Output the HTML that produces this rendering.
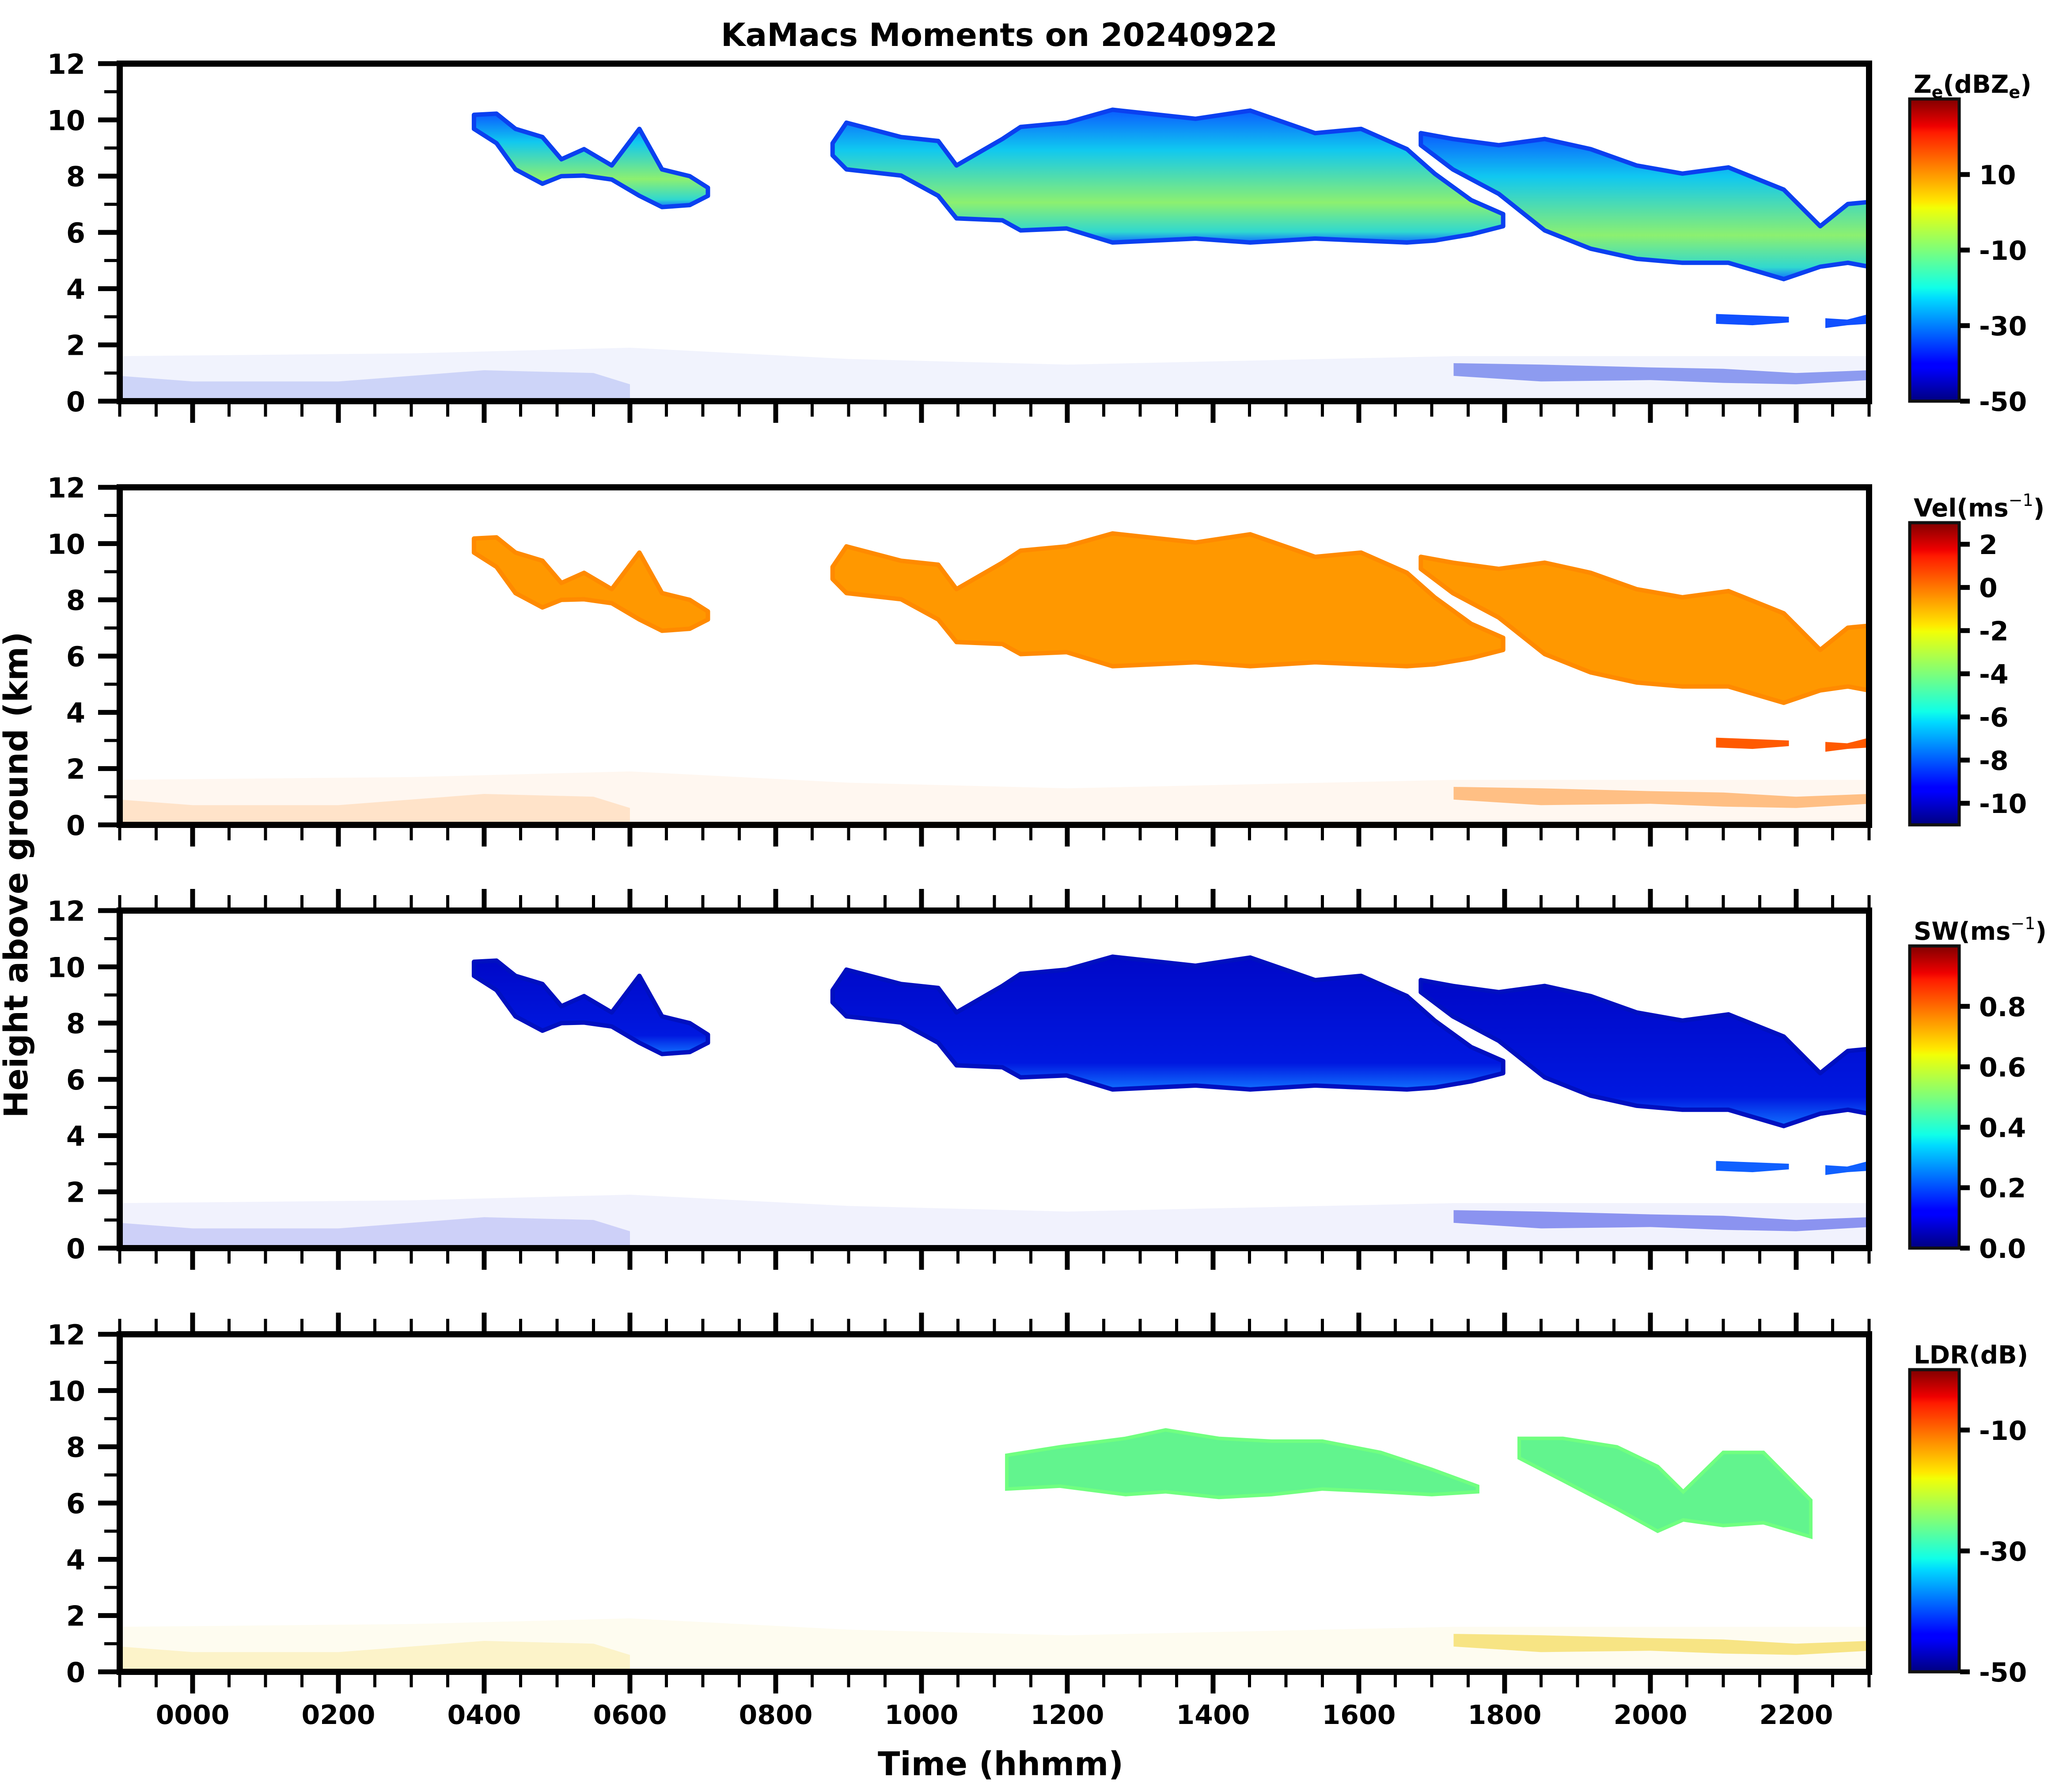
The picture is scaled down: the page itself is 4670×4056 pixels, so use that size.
<!DOCTYPE html>
<html><head><meta charset="utf-8"><title>KaMacs Moments</title>
<style>
html,body{margin:0;padding:0;background:#fff;}
svg{display:block;font-family:"DejaVu Sans","Liberation Sans",sans-serif;font-weight:bold;}
</style></head>
<body>
<svg id="fig" xmlns="http://www.w3.org/2000/svg" width="4670" height="4056" viewBox="0 0 4670 4056">
<defs>
<linearGradient id="jet" x1="0" y1="1" x2="0" y2="0">
<stop offset="0" stop-color="#000080"/><stop offset="0.11" stop-color="#0000ff"/><stop offset="0.125" stop-color="#0000ff"/>
<stop offset="0.34" stop-color="#00dbff"/><stop offset="0.375" stop-color="#10ffe8"/><stop offset="0.5" stop-color="#7dff7a"/>
<stop offset="0.64" stop-color="#f2ff06"/><stop offset="0.66" stop-color="#ffe800"/><stop offset="0.89" stop-color="#ff1a00"/>
<stop offset="0.91" stop-color="#f00000"/><stop offset="1" stop-color="#800000"/></linearGradient>
<linearGradient id="zeFill" x1="0" y1="0" x2="0" y2="1">
<stop offset="0" stop-color="#0a5cff"/><stop offset="0.3" stop-color="#10c8f0"/><stop offset="0.7" stop-color="#8cf070"/><stop offset="0.92" stop-color="#30d8d0"/><stop offset="1" stop-color="#1070ff"/></linearGradient>
<linearGradient id="swFill" x1="0" y1="0" x2="0" y2="1">
<stop offset="0" stop-color="#0008c8"/><stop offset="0.8" stop-color="#0018e0"/><stop offset="1" stop-color="#1070ff"/></linearGradient>
</defs>
<g id="root"></g>
</svg>
<script>
// ---- data (time in hours, heights in km) ----
const cloudA_t   = [3.86,4.17,4.43,4.80,5.06,5.37,5.75,6.13,6.44,6.82,7.07];
const cloudA_top = [10.18,10.22,9.68,9.39,8.6,8.96,8.38,9.68,8.24,8.0,7.59];
const cloudA_bot = [9.68,9.17,8.24,7.73,8.0,8.02,7.88,7.3,6.9,6.97,7.3];
const cloudB_t   = [8.78,8.97,9.72,10.23,10.48,11.11,11.36,11.99,12.62,13.76,14.51,15.4,16.03,16.66,17.04,17.54,17.98];
const cloudB_top = [9.17,9.9,9.39,9.25,8.38,9.32,9.75,9.9,10.36,10.04,10.33,9.53,9.68,8.96,8.09,7.15,6.65];
const cloudB_bot = [8.74,8.24,8.02,7.3,6.5,6.43,6.07,6.14,5.64,5.78,5.64,5.78,5.71,5.64,5.71,5.93,6.22];
const cloudC_t   = [16.85,17.29,17.92,18.55,19.18,19.81,20.44,21.07,21.83,22.33,22.71,23.0];
const cloudC_top = [9.53,9.32,9.1,9.32,8.96,8.38,8.09,8.31,7.52,6.22,7.01,7.08];
const cloudC_bot = [9.1,8.24,7.37,6.07,5.42,5.06,4.92,4.92,4.34,4.78,4.92,4.78];
const lowD_t = [20.9,21.4,21.9]; const lowD_top = [3.1,3.05,3.0]; const lowD_bot = [2.75,2.7,2.8];
const lowE_t = [22.4,22.7,23.0]; const lowE_top = [2.95,2.9,3.1]; const lowE_bot = [2.6,2.7,2.75];
const ldr1_t   = [11.17,11.9,12.8,13.35,14.08,14.8,15.5,16.3,17.0,17.63];
const ldr1_top = [7.7,8.0,8.3,8.6,8.3,8.2,8.2,7.8,7.2,6.6];
const ldr1_bot = [6.5,6.6,6.3,6.4,6.2,6.3,6.5,6.4,6.3,6.4];
const ldr2_t   = [18.2,18.8,19.54,20.1,20.45,21.0,21.55,22.2];
const ldr2_top = [8.3,8.3,8.0,7.3,6.4,7.8,7.8,6.1];
const ldr2_bot = [7.6,6.8,5.8,5.0,5.4,5.2,5.3,4.8];
const blSparse_t = [-1,3,6,9,12,17.3,23];
const blSparse_top = [1.6,1.7,1.9,1.5,1.3,1.6,1.6];
const blLow_t = [-1,0,2,4,5.5,6];
const blLow_top = [0.9,0.7,0.7,1.1,1.0,0.6];
const blLate_t = [17.3,18.5,20,21,22,23];
const blLate_top = [1.35,1.3,1.2,1.15,1.0,1.1];
const blLate_bot = [0.9,0.7,0.75,0.65,0.6,0.75];
const yTicks = [0,2,4,6,8,10,12];
const xTickHours = [0,2,4,6,8,10,12,14,16,18,20,22];
const xTickLabels = ["0000","0200","0400","0600","0800","1000","1200","1400","1600","1800","2000","2200"];
const cbTitles = ["Ze","Vel","SW","LDR"];
const cbMin = [-50,-11,0,-50];
const cbMax = [30,3,1.0,0];
const cbTickVals = [[10,-10,-30,-50],[2,0,-2,-4,-6,-8,-10],[0.0,0.2,0.4,0.6,0.8],[-10,-30,-50]];
const cbTickLabels = [["10","-10","-30","-50"],["2","0","-2","-4","-6","-8","-10"],["0.0","0.2","0.4","0.6","0.8"],["-10","-30","-50"]];

// ---- geometry ----
const NS="http://www.w3.org/2000/svg";
const root=document.getElementById('root');
const panelTops=[144,1103,2061,3020], PH=764, AXL=271, AXR=4231;
function xs(t){return 436+165*t;}
function ys(p,km){return panelTops[p]+PH*(1-km/12);}
function mk(tag,attrs,parent){const e=document.createElementNS(NS,tag);for(const k in attrs)e.setAttribute(k,attrs[k]);(parent||root).appendChild(e);return e;}
function band(p,t,top,bot){
  let pts=[];
  for(let i=0;i<t.length;i++)pts.push(xs(t[i]).toFixed(1)+','+ys(p,top[i]).toFixed(1));
  for(let i=t.length-1;i>=0;i--)pts.push(xs(t[i]).toFixed(1)+','+ys(p,bot?bot[i]:0.05).toFixed(1));
  return pts.join(' ');
}
const panelNames=['reflectivity-panel','velocity-panel','spectrum-width-panel','ldr-panel'];
const cloudFill=['url(#zeFill)','#ff9800','url(#swFill)',null];
const cloudStroke=['#0a40f0','#ff8a00','#0010c0',null];
const lowFill=['#1050ff','#ff5a00','#1060ff',null];
const blCol=['#1530e0','#ff7a00','#1020e0','#f0c800'];

for(let p=0;p<4;p++){
  const g=mk('g',{});
  
  
  const s=mk('polygon',{points:band(p,blSparse_t,blSparse_top,null),fill:blCol[p],opacity:0.06},g);
  
  
  const l=mk('polygon',{points:band(p,blLow_t,blLow_top,null),fill:blCol[p],opacity:0.16},g);
  
  
  const lt=mk('polygon',{points:band(p,blLate_t,blLate_top,blLate_bot),fill:blCol[p],opacity:0.45},g);
  
  
  if(p<3){
    const clouds=[[cloudA_t,cloudA_top,cloudA_bot,'cloud-early'],[cloudB_t,cloudB_top,cloudB_bot,'cloud-main'],[cloudC_t,cloudC_top,cloudC_bot,'cloud-late']];
    for(const c of clouds){
      const e=mk('polygon',{points:band(p,c[0],c[1],c[2]),fill:cloudFill[p],stroke:cloudStroke[p],'stroke-width':10,'stroke-linejoin':'round'},g);
      
      
    }
    for(const c of [[lowD_t,lowD_top,lowD_bot],[lowE_t,lowE_top,lowE_bot]]){
      const e=mk('polygon',{points:band(p,c[0],c[1],c[2]),fill:lowFill[p]},g);
      
      
    }
  } else {
    for(const c of [[ldr1_t,ldr1_top,ldr1_bot],[ldr2_t,ldr2_top,ldr2_bot]]){
      const e=mk('polygon',{points:band(p,c[0],c[1],c[2]),fill:'#62f48e',stroke:'#70ff80','stroke-width':8},g);
      
      
    }
  }
  const top=panelTops[p], bot=top+PH;
  const fr=mk('rect',{x:AXL,y:top,width:AXR-AXL,height:PH,fill:'none',stroke:'#000','stroke-width':14},g);
  
  
  for(let k=0;k<=12;k++){
    const major=k%2===0, y=ys(p,k);
    mk('line',{x1:AXL-7,x2:AXL-(major?49:35),y1:y,y2:y,stroke:'#000','stroke-width':major?11:7},g);
  }
  for(const v of yTicks){
    const t=mk('text',{x:193,y:ys(p,v)+23,'text-anchor':'end','font-size':62},g);
    t.textContent=String(v);
    
    
  }
  for(let k=-2;k<=46;k++){
    const h=k/2, x=xs(h), major=(k%4===0);
    mk('line',{x1:x,x2:x,y1:bot+7,y2:bot+(major?49:35),stroke:'#000','stroke-width':major?11:7},g);
    if(p>=2 && major) mk('line',{x1:x,x2:x,y1:top-7,y2:top-49,stroke:'#000','stroke-width':11},g);
    else if(p>=2) mk('line',{x1:x,x2:x,y1:top-7,y2:top-35,stroke:'#000','stroke-width':7},g);
  }
  const cbTop=top+80, cbBot=bot;
  const cb=mk('rect',{x:4323,y:cbTop,width:112,height:cbBot-cbTop,fill:'url(#jet)',stroke:'#111','stroke-width':7},g);
  
  
  for(let i=0;i<cbTickVals[p].length;i++){
    const v=cbTickVals[p][i];
    const y=cbBot-(v-cbMin[p])/(cbMax[p]-cbMin[p])*(cbBot-cbTop);
    mk('line',{x1:4437,x2:4459,y1:y,y2:y,stroke:'#000','stroke-width':11},g);
    const t=mk('text',{x:4480,y:y+22,'font-size':60},g);
    t.textContent=cbTickLabels[p][i];
    
    
  }
}

const titleSpecs=[
  ['colorbar-title-ze','Z<tspan font-size="38" dy="12">e</tspan><tspan dy="-12">(dBZ</tspan><tspan font-size="38" dy="12">e</tspan><tspan dy="-12">)</tspan>'],
  ['colorbar-title-vel','Vel(ms<tspan font-size="38" dy="-24" font-weight="normal">−1</tspan><tspan dy="24">)</tspan>'],
  ['colorbar-title-sw','SW(ms<tspan font-size="38" dy="-24" font-weight="normal">−1</tspan><tspan dy="24">)</tspan>'],
  ['colorbar-title-ldr','LDR(dB)']];
for(let p=0;p<4;p++){
  const t=mk('text',{x:4332,y:panelTops[p]+66,'font-size':56});
  t.innerHTML=titleSpecs[p][1];
  
  
}
for(let i=0;i<xTickHours.length;i++){
  const t=mk('text',{x:xs(xTickHours[i]),y:3902,'text-anchor':'middle','font-size':60});
  t.textContent=xTickLabels[i];
  
  
}
const title=mk('text',{x:2262,y:104,'text-anchor':'middle','font-size':72});
title.textContent='KaMacs Moments on 20240922';


const xl=mk('text',{x:2265,y:4018,'text-anchor':'middle','font-size':74});
xl.textContent='Time (hhmm)';


const yl=mk('text',{x:0,y:0,'text-anchor':'middle','font-size':74,transform:'translate(62,1980) rotate(-90)'});
yl.textContent='Height above ground (km)';


</script>
</body></html>
